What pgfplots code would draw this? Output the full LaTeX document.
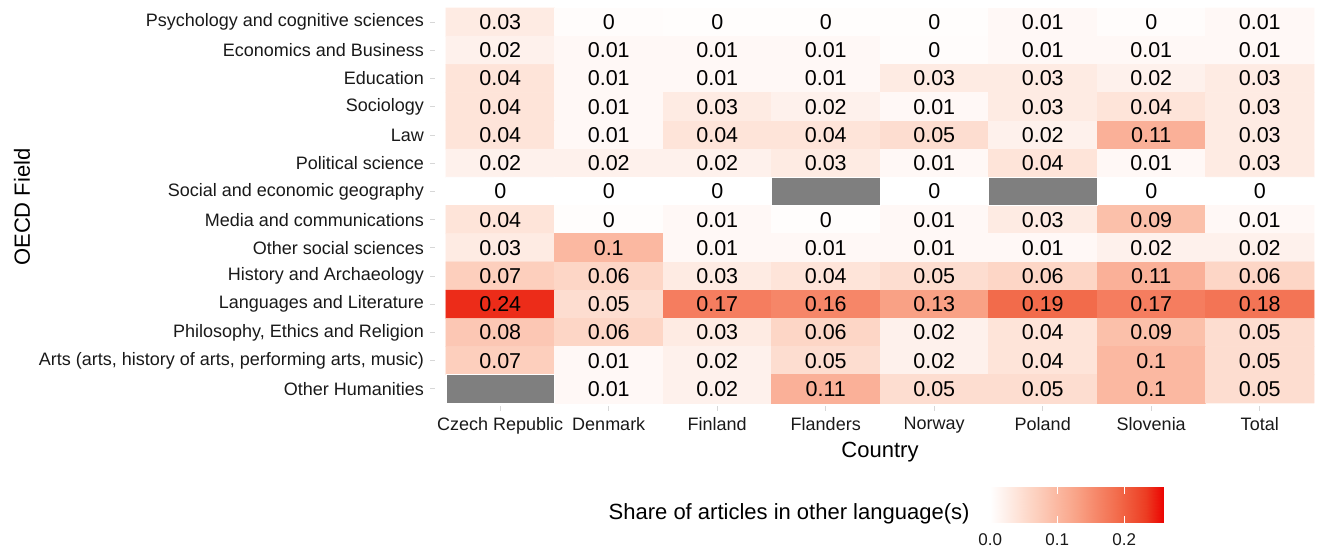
\documentclass[border=0pt]{standalone}
\usepackage{pgfplots}
\usepackage{pgfplotstable}
\pgfplotsset{compat=1.18}
\usepackage{fontspec}
\setmainfont{Liberation Sans}

% rows: y=0 at top (Psychology ...), y=13 at bottom (Other Humanities)
\pgfplotstableread{
x y c lab na
0 0 0.03 0.03 0
1 0 0.004 0 0
2 0 0.003 0 0
3 0 0.003 0 0
4 0 0.003 0 0
5 0 0.01 0.01 0
6 0 0.004 0 0
7 0 0.01 0.01 0
0 1 0.02 0.02 0
1 1 0.01 0.01 0
2 1 0.01 0.01 0
3 1 0.01 0.01 0
4 1 0.004 0 0
5 1 0.01 0.01 0
6 1 0.01 0.01 0
7 1 0.01 0.01 0
0 2 0.04 0.04 0
1 2 0.01 0.01 0
2 2 0.01 0.01 0
3 2 0.01 0.01 0
4 2 0.03 0.03 0
5 2 0.03 0.03 0
6 2 0.02 0.02 0
7 2 0.03 0.03 0
0 3 0.04 0.04 0
1 3 0.01 0.01 0
2 3 0.03 0.03 0
3 3 0.02 0.02 0
4 3 0.01 0.01 0
5 3 0.03 0.03 0
6 3 0.04 0.04 0
7 3 0.03 0.03 0
0 4 0.04 0.04 0
1 4 0.01 0.01 0
2 4 0.04 0.04 0
3 4 0.04 0.04 0
4 4 0.05 0.05 0
5 4 0.02 0.02 0
6 4 0.11 0.11 0
7 4 0.03 0.03 0
0 5 0.02 0.02 0
1 5 0.02 0.02 0
2 5 0.02 0.02 0
3 5 0.03 0.03 0
4 5 0.01 0.01 0
5 5 0.04 0.04 0
6 5 0.01 0.01 0
7 5 0.03 0.03 0
0 6 0 0 0
1 6 0 0 0
2 6 0 0 0
3 6 0 NA 1
4 6 0 0 0
5 6 0 NA 1
6 6 0 0 0
7 6 0 0 0
0 7 0.04 0.04 0
1 7 0.003 0 0
2 7 0.01 0.01 0
3 7 0.003 0 0
4 7 0.01 0.01 0
5 7 0.03 0.03 0
6 7 0.09 0.09 0
7 7 0.01 0.01 0
0 8 0.03 0.03 0
1 8 0.10 0.1 0
2 8 0.01 0.01 0
3 8 0.01 0.01 0
4 8 0.01 0.01 0
5 8 0.01 0.01 0
6 8 0.02 0.02 0
7 8 0.02 0.02 0
0 9 0.07 0.07 0
1 9 0.06 0.06 0
2 9 0.03 0.03 0
3 9 0.04 0.04 0
4 9 0.05 0.05 0
5 9 0.06 0.06 0
6 9 0.11 0.11 0
7 9 0.06 0.06 0
0 10 0.24 0.24 0
1 10 0.05 0.05 0
2 10 0.17 0.17 0
3 10 0.16 0.16 0
4 10 0.13 0.13 0
5 10 0.19 0.19 0
6 10 0.17 0.17 0
7 10 0.18 0.18 0
0 11 0.08 0.08 0
1 11 0.06 0.06 0
2 11 0.03 0.03 0
3 11 0.06 0.06 0
4 11 0.02 0.02 0
5 11 0.04 0.04 0
6 11 0.09 0.09 0
7 11 0.05 0.05 0
0 12 0.07 0.07 0
1 12 0.01 0.01 0
2 12 0.02 0.02 0
3 12 0.05 0.05 0
4 12 0.02 0.02 0
5 12 0.04 0.04 0
6 12 0.10 0.1 0
7 12 0.05 0.05 0
0 13 0 NA 1
1 13 0.01 0.01 0
2 13 0.02 0.02 0
3 13 0.11 0.11 0
4 13 0.05 0.05 0
5 13 0.05 0.05 0
6 13 0.10 0.1 0
7 13 0.05 0.05 0
}\heat

\definecolor{nagray}{RGB}{127,127,127}
\definecolor{tickgray}{RGB}{215,215,215}
\pgfplotsset{colormap={wr}{rgb255(0cm)=(255,255,255); rgb255(1cm)=(253,211,194); rgb255(2cm)=(249,162,134); rgb255(3cm)=(242,104,72); rgb255(3.6cm)=(236,60,34); rgb255(4cm)=(236,6,3)}}

\begin{document}
\begin{tikzpicture}
\path[use as bounding box] (0,0) rectangle (1323pt,551pt);
\begin{axis}[
  at={(435.15pt,145.2pt)}, anchor=south west,
  width=889.7pt, height=400.6pt, scale only axis,
  xmin=-0.6, xmax=7.6, ymin=-0.6, ymax=13.6,
  y dir=reverse,
  axis line style={draw=none},
  tick pos=left, tick align=outside,
  major tick length=5pt,
  tick style={draw=tickgray, line width=0.8pt},
  xtick={0,...,7},
  xticklabels={Czech Republic,Denmark,Finland,Flanders,Norway,Poland,Slovenia,Total},
  ytick={0,...,13},
  yticklabels={Psychology and cognitive sciences,Economics and Business,Education,Sociology,Law,Political science,Social and economic geography,Media and communications,Other social sciences,History and Archaeology,Languages and Literature,{Philosophy, Ethics and Religion},{Arts (arts, history of arts, performing arts, music)},Other Humanities},
  ticklabel style={font=\fontsize{18pt}{20pt}\selectfont, text=black!90},
  yticklabel style={anchor=east, inner sep=0pt, xshift=-6pt},
  xticklabel style={anchor=north, inner sep=0pt, yshift=-6pt},
  xlabel={Country}, ylabel={OECD Field},
  label style={font=\fontsize{22pt}{24pt}\selectfont},
  xlabel style={at={(axis description cs:0.5,-0.1153)}, anchor=center},
  ylabel style={at={(axis description cs:-0.4644,0.496)}, anchor=center, rotate=0},
  point meta min=0, point meta max=0.258,
]
\addplot[matrix plot, mesh/cols=8, point meta=explicit, faceted color=white, line width=0.6pt]
  table[x=x, y=y, meta=c] {\heat};
\addplot[only marks, mark=none,
  restrict expr to domain={\thisrow{na}}{0:0},
  point meta=explicit symbolic,
  nodes near coords,
  nodes near coords style={anchor=center, font=\fontsize{21.5pt}{23pt}\selectfont, text=black}]
  table[x=x, y=y, meta=lab] {\heat};
\addplot[fill=nagray, draw=white, line width=0.6pt] coordinates {(-0.5,12.5) (0.5,12.5) (0.5,13.5) (-0.5,13.5)} -- cycle;
\addplot[fill=nagray, draw=white, line width=0.6pt] coordinates {(2.5,5.5) (3.5,5.5) (3.5,6.5) (2.5,6.5)} -- cycle;
\addplot[fill=nagray, draw=white, line width=0.6pt] coordinates {(4.5,5.5) (5.5,5.5) (5.5,6.5) (4.5,6.5)} -- cycle;
\end{axis}
\begin{axis}[
  at={(990.3pt,28pt)}, anchor=south west,
  width=172.7pt, height=36pt, scale only axis,
  xmin=0, xmax=0.258, ymin=0, ymax=1,
  point meta min=0, point meta max=0.258,
  axis line style={draw=none}, axis on top,
  ytick=\empty,
  xtick={0,0.1,0.2}, xticklabels={0.0,0.1,0.2},
  tick align=inside, xtick pos=both,
  major tick length=7pt,
  tick style={draw=white, line width=0.8pt},
  xticklabel style={font=\fontsize{17pt}{19pt}\selectfont, anchor=north, inner sep=0pt, yshift=-10pt, text=black!90},
]
\addplot[surf, shader=interp, mesh/rows=2, point meta=x] coordinates {
(0,0) (0.02,0) (0.04,0) (0.06,0) (0.08,0) (0.1,0) (0.12,0) (0.14,0) (0.16,0) (0.18,0) (0.2,0) (0.22,0) (0.24,0) (0.258,0)

(0,1) (0.02,1) (0.04,1) (0.06,1) (0.08,1) (0.1,1) (0.12,1) (0.14,1) (0.16,1) (0.18,1) (0.2,1) (0.22,1) (0.24,1) (0.258,1)
};
\end{axis}
\node[anchor=base east, font=\fontsize{22pt}{24pt}\selectfont] at (973pt,31pt) {Share of articles in other language(s)};
\end{tikzpicture}
\end{document}
